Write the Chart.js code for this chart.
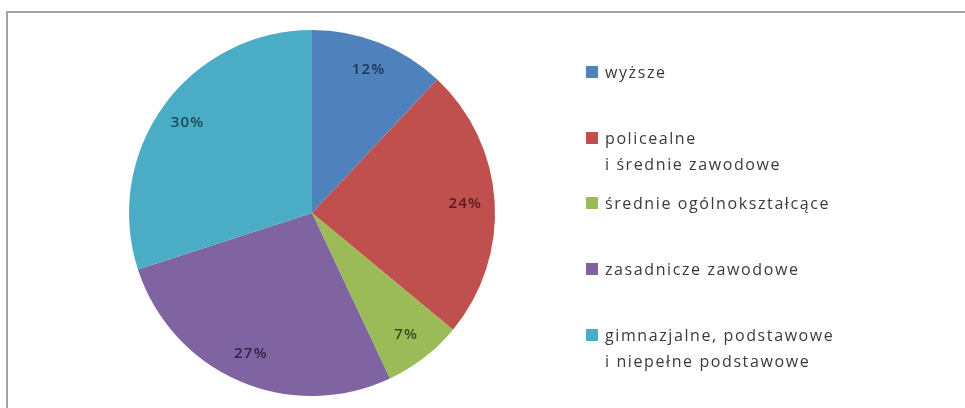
<!DOCTYPE html>
<html lang="pl">
<head>
<meta charset="utf-8">
<title>Wykształcenie</title>
<script src="https://cdn.jsdelivr.net/npm/chart.js@4/dist/chart.umd.min.js"></script>
<style>
  html, body { margin: 0; padding: 0; background: #fff; }
  body { width: 965px; height: 408px; position: relative; overflow: hidden; font-family: "Open Sans", sans-serif; }
  .frame { position: absolute; left: 6px; top: 11px; width: 1000px; height: 500px; border-left: 2px solid #a3a3a3; border-top: 2px solid #a3a3a3; }
  #wrap { position: absolute; left: 0; top: 0; width: 965px; height: 408px; }
  #legend { position: absolute; left: 586px; top: 0; }
  .item { position: absolute; left: 0; white-space: nowrap; }
  .box { position: absolute; left: 0; width: 12px; height: 12px; }
  .txt { position: absolute; left: 19px; font-size: 16px; line-height: 26px; color: #3a3a3a; letter-spacing: 1.6px; }
</style>
</head>
<body>
<div class="frame"></div>
<div id="wrap"><canvas id="chart"></canvas></div>
<div id="legend"></div>
<script>
// education levels, share of respondents (%)
const categories = [
  ['wyższe'],
  ['policealne', 'i średnie zawodowe'],
  ['średnie ogólnokształcące'],
  ['zasadnicze zawodowe'],
  ['gimnazjalne, podstawowe', 'i niepełne podstawowe']
];
const shares = [12, 24, 7, 27, 30];
const colors = ['#4f81bd', '#c0504d', '#9bbb59', '#8064a2', '#4bacc6'];
const labelColors = ['#1c3356', '#5a1c1b', '#3b4a1d', '#33244a', '#1b4a58'];

// legend: top of each entry's first line
const legendTops = [59, 125, 190, 256, 322];
document.getElementById('legend').innerHTML = categories.map((lines, i) => (
  `<div class="item" style="top:${legendTops[i]}px">
    <div class="box" style="top:7px;background:${colors[i]}"></div>
    <div class="txt">${lines.join('<br>')}</div>
  </div>`
)).join('');

// percentage labels inside the slices
const sliceLabels = {
  id: 'sliceLabels',
  afterDatasetsDraw(chart) {
    const ctx = chart.ctx;
    const meta = chart.getDatasetMeta(0);
    ctx.save();
    ctx.font = '600 15px "Open Sans", sans-serif';
    ctx.letterSpacing = '1.2px';
    ctx.textAlign = 'center';
    ctx.textBaseline = 'middle';
    meta.data.forEach((arc, i) => {
      const mid = (arc.startAngle + arc.endAngle) / 2;
      const r = arc.outerRadius * 0.84;
      ctx.fillStyle = labelColors[i];
      ctx.fillText(shares[i] + '%', arc.x + Math.cos(mid) * r, arc.y + Math.sin(mid) * r);
    });
    ctx.restore();
  }
};

const ctx = document.getElementById('chart');
ctx.width = 965;
ctx.height = 408;
new Chart(ctx, {
  type: 'pie',
  data: {
    labels: categories.map(l => l.join(' ')),
    datasets: [{
      data: shares,
      backgroundColor: colors,
      borderWidth: 0,
      hoverOffset: 0
    }]
  },
  options: {
    responsive: false,
    animation: false,
    layout: { padding: { left: 129, right: 470, top: 30, bottom: 12 } },
    plugins: {
      legend: { display: false },
      tooltip: { enabled: false }
    }
  },
  plugins: [sliceLabels]
});
</script>
</body>
</html>
